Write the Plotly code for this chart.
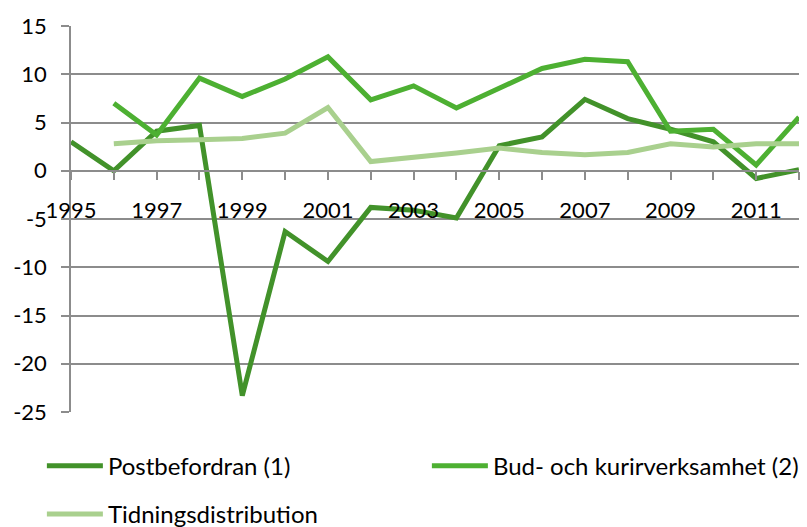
import plotly.graph_objects as go

years = list(range(1995, 2013))
year_labels = [str(y) if y % 2 == 1 else "" for y in years]

postbefordran = [3.0, 0.0, 4.1, 4.7, -23.3, -6.3, -9.4, -3.8, -4.1, -4.9,
                 2.6, 3.5, 7.4, 5.4, 4.3, 3.0, -0.8, 0.1]
bud_kurir = [None, 7.0, 3.7, 9.6, 7.7, 9.5, 11.8, 7.35, 8.8, 6.5,
             8.55, 10.6, 11.55, 11.3, 4.1, 4.3, 0.6, 5.55]
tidning = [None, 2.8, 3.1, 3.2, 3.35, 3.9, 6.55, 0.95, 1.35, 1.85,
           2.35, 1.9, 1.65, 1.9, 2.8, 2.45, 2.8, 2.8]

y_ticks = [15, 10, 5, 0, -5, -10, -15, -20, -25]
y_tick_labels = ["15", "10", "5", "0", "-5", "-10", "-15", "-20", "-25"]

names = ["Postbefordran (1)", "Bud- och kurirverksamhet (2)", "Tidningsdistribution"]
colors = ["#42922a", "#4db032", "#a9d08e"]
series = [postbefordran, bud_kurir, tidning]
legend_ids = ["legend", "legend", "legend2"]

font = "Lato"
grid = "#8c8c8c"

fig = go.Figure()
for name, vals, col, lg in zip(names, series, colors, legend_ids):
    fig.add_trace(go.Scatter(x=years, y=vals, name=name, mode="lines",
                             line=dict(color=col, width=5),
                             connectgaps=False, legend=lg))

leg_common = dict(orientation="h", xanchor="left", yanchor="middle",
                  itemwidth=56, font=dict(family=font, size=24, color="#000"),
                  bgcolor="rgba(0,0,0,0)", borderwidth=0)

fig.update_layout(
    width=807, height=527,
    margin=dict(l=71, r=8, t=26, b=115, autoexpand=False),
    paper_bgcolor="white", plot_bgcolor="white",
    font=dict(family=font, size=21, color="#000000"),
    showlegend=True,
    legend=dict(x=-0.04, y=-0.14, entrywidth=314, entrywidthmode="pixels",
                **leg_common),
    legend2=dict(x=-0.04, y=-0.265, **leg_common),
    xaxis=dict(range=[1995, 2012], tickvals=years, ticktext=year_labels,
               anchor="free", position=0.625, showgrid=False, zeroline=False,
               showline=True, linecolor=grid, linewidth=1.5,
               ticks="outside", ticklen=8, tickcolor=grid, tickwidth=1.5,
               ticklabelstandoff=12,
               tickfont=dict(family=font, size=22)),
    yaxis=dict(range=[-25, 15], tickvals=y_ticks, ticktext=y_tick_labels,
               showgrid=True,
               gridcolor=grid, gridwidth=1.5, zeroline=False,
               showline=True, linecolor=grid, linewidth=1.5,
               ticks="outside", ticklen=8, tickcolor=grid, tickwidth=1.5,
               ticklabelstandoff=10,
               tickfont=dict(family=font, size=22)),
)

fig.write_html("out.html",
               config={"displayModeBar": False},
               post_script="document.body.style.margin='0';"
                           "document.body.style.overflow='hidden';")
